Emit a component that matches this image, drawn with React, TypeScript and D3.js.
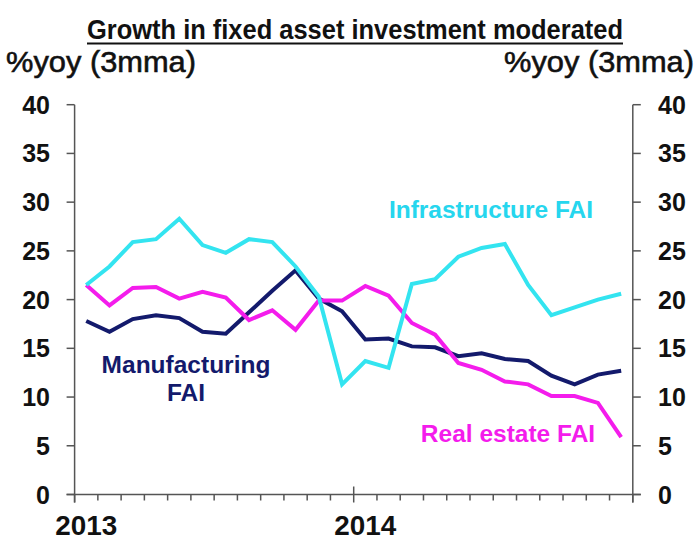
import React from "react";
import * as d3 from "d3";

const months = [
  "2013-01","2013-02","2013-03","2013-04","2013-05","2013-06","2013-07","2013-08","2013-09","2013-10","2013-11","2013-12",
  "2014-01","2014-02","2014-03","2014-04","2014-05","2014-06","2014-07","2014-08","2014-09","2014-10","2014-11","2014-12",
];
const infrastructure = [21.5,23.4,25.9,26.2,28.3,25.6,24.8,26.2,25.9,23.4,20.3,11.3,13.7,13.0,21.6,22.1,24.4,25.3,25.7,21.5,18.4,19.2,20.0,20.6];
const realEstate = [21.5,19.4,21.2,21.3,20.1,20.8,20.2,17.9,18.9,16.9,19.9,19.9,21.4,20.4,17.6,16.4,13.5,12.8,11.6,11.3,10.1,10.1,9.4,5.9];
const manufacturing = [17.8,16.7,18.0,18.4,18.1,16.7,16.5,18.7,20.9,23.0,20.1,18.8,15.9,16.0,15.2,15.1,14.2,14.5,13.9,13.7,12.2,11.3,12.3,12.7];
const yTicks = [0, 5, 10, 15, 20, 25, 30, 35, 40];
const yearLabels = [{ label: "2013", index: 0 }, { label: "2014", index: 12 }];

const FONT = "'Liberation Sans', Arial, sans-serif";
const AXIS = "#555";

export default function App() {
  const x = d3.scaleLinear().domain([0, months.length]).range([74.6, 632.8]);
  const y = d3.scaleLinear().domain([0, 40]).range([494.5, 104.7]);
  const line = d3
    .line<number>()
    .x((_, i) => x(i + 0.5))
    .y((v) => y(v));

  const series = [
    { data: manufacturing, color: "#131a6c" },
    { data: realEstate, color: "#f41cec" },
    { data: infrastructure, color: "#33e4f0" },
  ];

  const monthTicks = d3.range(0, months.length + 1);

  return (
    <svg
      width={699}
      height={541}
      style={{ position: "absolute", left: 0, top: 0, background: "#fff" }}
      fontFamily={FONT}
    >
      {/* Title */}
      <text x={355} y={39} textAnchor="middle" fontSize={28} fontWeight="bold" fill="#111"
        textLength={536} lengthAdjust="spacingAndGlyphs">
        Growth in fixed asset investment moderated
      </text>
      <line x1={87} x2={623} y1={43.5} y2={43.5} stroke="#111" strokeWidth={2} />

      {/* Axis titles */}
      <text x={6} y={72} fontSize={30} fill="#111" stroke="#111" strokeWidth={0.6} textLength={190} lengthAdjust="spacingAndGlyphs">%yoy (3mma)</text>
      <text x={504} y={72} fontSize={30} fill="#111" stroke="#111" strokeWidth={0.6} textLength={190} lengthAdjust="spacingAndGlyphs">%yoy (3mma)</text>

      {/* Left axis */}
      <line x1={x(0)} x2={x(0)} y1={y(40)} y2={y(0) + 8} stroke={AXIS} strokeWidth={1.5} />
      {yTicks.map((t) => (
        <g key={"l" + t}>
          <line x1={x(0) - 8} x2={x(0)} y1={y(t)} y2={y(t)} stroke={AXIS} strokeWidth={1.5} />
          <text x={50} y={y(t) + 9} textAnchor="end" fontSize={25} fontWeight="bold" fill="#111">{t}</text>
        </g>
      ))}

      {/* Right axis */}
      <line x1={x(24)} x2={x(24)} y1={y(40)} y2={y(0) + 8} stroke={AXIS} strokeWidth={1.5} />
      {yTicks.map((t) => (
        <g key={"r" + t}>
          <line x1={x(24)} x2={x(24) + 8} y1={y(t)} y2={y(t)} stroke={AXIS} strokeWidth={1.5} />
          <text x={658} y={y(t) + 9} textAnchor="start" fontSize={25} fontWeight="bold" fill="#111">{t}</text>
        </g>
      ))}

      {/* X axis */}
      <line x1={x(0) - 8} x2={x(24) + 8} y1={y(0)} y2={y(0)} stroke={AXIS} strokeWidth={1.5} />
      {monthTicks.map((m) => (
        <line
          key={"m" + m}
          x1={x(m)}
          x2={x(m)}
          y1={m === 12 ? y(0) - 8 : y(0)}
          y2={m % 12 === 0 ? y(0) + 8 : y(0) + 6}
          stroke={AXIS}
          strokeWidth={1.5}
        />
      ))}
      {yearLabels.map((d) => (
        <text key={d.label} x={x(d.index + 0.5)} y={535} textAnchor="middle" fontSize={28} fontWeight="bold" fill="#111"
          textLength={62} lengthAdjust="spacingAndGlyphs">
          {d.label}
        </text>
      ))}

      {/* Series */}
      {series.map((s, i) => (
        <path key={i} d={line(s.data) || ""} fill="none" stroke={s.color} strokeWidth={4} strokeLinejoin="miter" />
      ))}

      {/* Labels */}
      <text x={491} y={218} textAnchor="middle" fontSize={24.5} fontWeight="bold" fill="#26d6ee">Infrastructure FAI</text>
      <text x={186} y={373} textAnchor="middle" fontSize={24.5} fontWeight="bold" fill="#131a6c">Manufacturing</text>
      <text x={186} y={401} textAnchor="middle" fontSize={24.5} fontWeight="bold" fill="#131a6c">FAI</text>
      <text x={508} y={442} textAnchor="middle" fontSize={24.5} fontWeight="bold" fill="#f41cec">Real estate FAI</text>
    </svg>
  );
}
